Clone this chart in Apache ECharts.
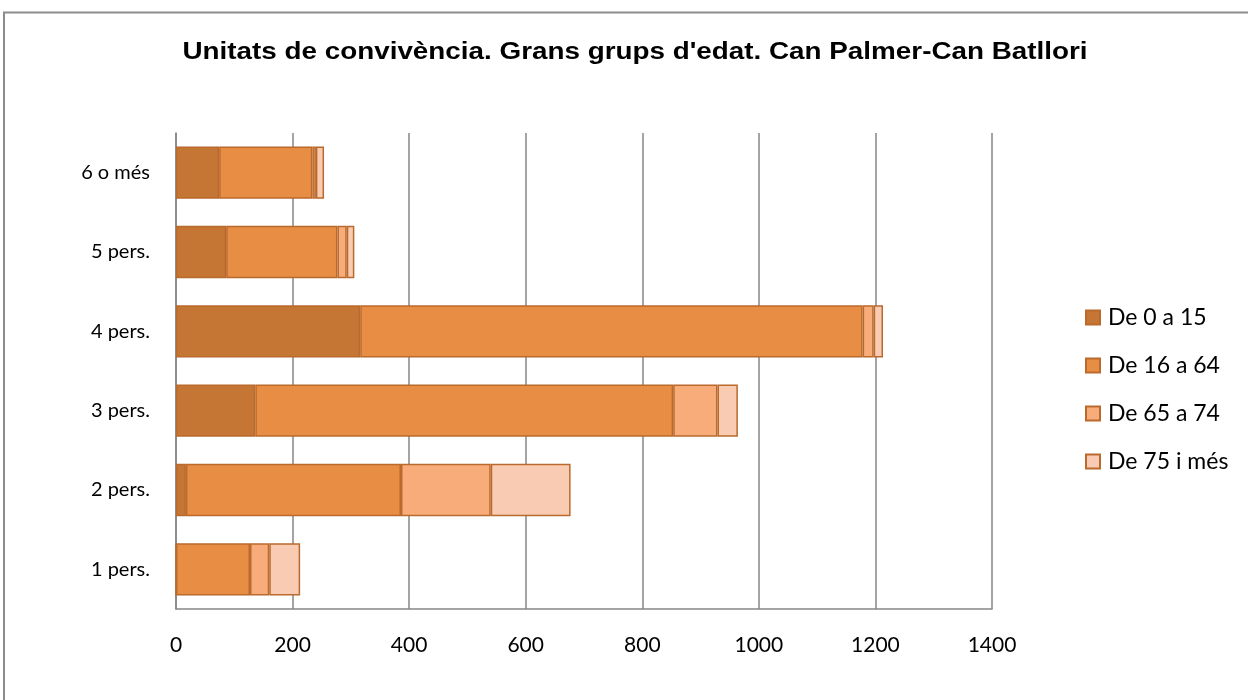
<!DOCTYPE html>
<html><head><meta charset="utf-8">
<script src="https://cdn.jsdelivr.net/npm/echarts@6/dist/echarts.min.js"></script>
<style>html,body{margin:0;padding:0;background:#fff}#c{width:1248px;height:700px}</style>
</head><body><div id="c"></div>
<script>
const categories = ['1 pers.', '2 pers.', '3 pers.', '4 pers.', '5 pers.', '6 o més'];
const seriesNames = ['De 0 a 15', 'De 16 a 64', 'De 65 a 74', 'De 75 i més'];
const age0_15 = [0, 17, 136, 316, 86, 74];
const age16_64 = [127, 369, 717, 862, 191, 160];
const age65_74 = [33, 154, 76, 19, 16, 6];
const age75plus = [53, 137, 35, 16, 13, 14];
const xTicks = [0, 200, 400, 600, 800, 1000, 1200, 1400];
const titleText = "Unitats de convivència. Grans grups d'edat. Can Palmer-Can Batllori";

const colors = ['#C57635', '#E88E44', '#F7AC7A', '#F9CBB3'];
const dataSets = [age0_15, age16_64, age65_74, age75plus];
const font = 'Lato, "Open Sans", sans-serif';

const chart = echarts.init(document.getElementById('c'));
chart.setOption({
  animation: false,
  legend: {
    orient: 'vertical', left: 1085, top: 306, itemGap: 25, padding: 0,
    itemWidth: 14, itemHeight: 14, icon: 'rect',
    textStyle: { fontFamily: font, fontSize: 23, color: '#000', padding: [0, 0, 0, 3] },
    data: seriesNames
  },
  grid: { left: 176, right: 256, top: 133, bottom: 91 },
  xAxis: {
    type: 'value', min: 0, max: 1400, interval: 200,
    axisLine: { show: true, lineStyle: { color: '#868686', width: 1.5 } },
    axisTick: { show: false },
    axisLabel: { fontFamily: font, fontSize: 21, color: '#000', margin: 26,
      formatter: v => xTicks.includes(v) ? String(v) : '' },
    splitLine: { show: true, lineStyle: { color: '#868686', width: 1.5 } }
  },
  yAxis: {
    type: 'category', data: categories,
    axisLine: { show: true, lineStyle: { color: '#868686', width: 1.5 } },
    axisTick: { show: false },
    axisLabel: { fontFamily: font, fontSize: 20, color: '#000', margin: 26 }
  },
  graphic: [{
    type: 'rect', shape: { x: 4, y: 12.5, width: 1400, height: 900 },
    style: { fill: 'none', stroke: '#8c8c8c', lineWidth: 2 }, silent: true
  }, {
    type: 'text', x: 635, y: 53, scaleX: 1.21,
    style: { text: titleText, fontFamily: 'Liberation Sans, Arial, sans-serif', fontSize: 23,
      fontWeight: 'bold', fill: '#000', align: 'center', verticalAlign: 'middle' }, silent: true
  }],
  series: seriesNames.map((n, i) => ({
    name: n, type: 'bar', stack: 'total', barWidth: '66%',
    data: dataSets[i],
    itemStyle: { color: colors[i], borderColor: '#B96A2C', borderWidth: 1.5 }
  }))
});
</script></body></html>
